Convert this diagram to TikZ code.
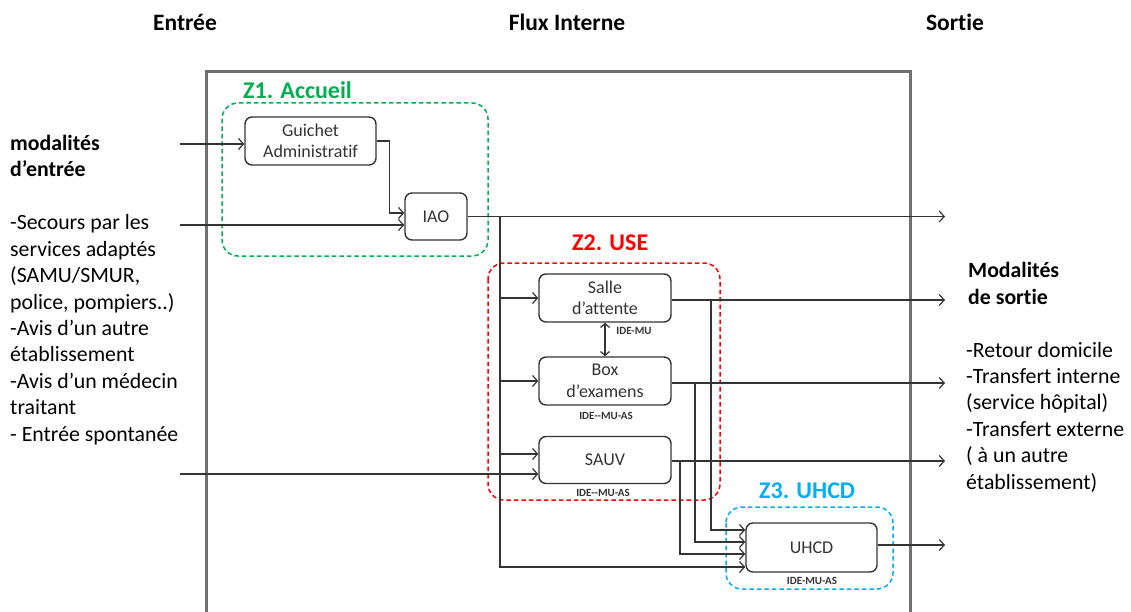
\documentclass[tikz,border=0pt]{standalone}
\usepackage{fontspec}
\setmainfont{Carlito}[Ligatures={TeX,NoCommon}]
\usetikzlibrary{arrows.meta}
\definecolor{zgreen}{HTML}{00B050}
\definecolor{zred}{HTML}{FF0000}
\definecolor{zcyan}{HTML}{00B0F0}
\definecolor{frame}{HTML}{6F6F6F}
\definecolor{ink}{HTML}{333333}
\tikzset{
  stepbox/.style={draw=ink, line width=1.4pt, rounded corners=7pt, inner sep=0pt, align=center,
    font=\fontsize{18}{21.5}\selectfont, text=ink},
  zone/.style={dashed, dash pattern=on 4.5pt off 3pt, line width=1.5pt, rounded corners=16pt},
  zlabel/.style={font=\fontsize{24}{28}\selectfont\bfseries, anchor=base west, inner sep=0pt},
  staff/.style={font=\fontsize{11}{12}\selectfont\bfseries, text=ink, inner sep=0pt},
  flow/.style={draw=ink, line width=1.3pt, -{Straight Barb[length=5pt,width=11pt,line width=1.2pt]}},
  head/.style={font=\fontsize{23.5}{28}\selectfont\bfseries, inner sep=0pt, anchor=base},
  side/.style={font=\fontsize{21.8}{26.4}\selectfont, align=left, inner sep=0pt, anchor=base west, text=black},
}
\begin{document}
\begin{tikzpicture}[x=1pt,y=-1pt]
\useasboundingbox (0,0) rectangle (1131,612);

% headers
\node[head] (hin) at (185,31) {Entrée};
\node[head] (hmid) at (567,31) {Flux Interne};
\node[head] (hout) at (955,31) {Sortie};

% main frame
\draw[frame, line width=3pt] (206,612) -- (206,72) -- (910,72) -- (910,612);

% zones
\draw[zone, zgreen] (222,103) rectangle (488,256);
\draw[zone, zred] (488,263) rectangle (720,500);
\draw[zone, zcyan] (726,507) rectangle (893,589);
\node[zlabel, zgreen] (z1) at (243,99) {Z1. Accueil};
\node[zlabel, zred] (z2) at (572,251) {Z2. USE};
\node[zlabel, zcyan] (z3) at (759,498) {Z3. UHCD};

% boxes
\node[stepbox, minimum width=131pt, minimum height=48pt] (guichet) at (310.5,141) {Guichet\\Administratif};
\node[stepbox, minimum width=62pt, minimum height=47pt] (iao) at (436,216.5) {IAO};
\node[stepbox, minimum width=132pt, minimum height=48pt] (salle) at (605,298) {Salle\\d’attente};
\node[stepbox, minimum width=132pt, minimum height=48pt] (box) at (605,381) {Box\\d’examens};
\node[stepbox, minimum width=132pt, minimum height=47pt] (sauv) at (605,460) {SAUV};
\node[stepbox, minimum width=131pt, minimum height=49pt] (uhcd) at (811.5,547.5) {UHCD};

% staff labels
\node[staff] (s1) at (634,331) {IDE-MU};
\node[staff] (s2) at (606,415.5) {IDE-{}-MU-AS};
\node[staff] (s3) at (603,492.5) {IDE-{}-MU-AS};
\node[staff] (s4) at (812,581) {IDE-MU-AS};

% side texts (base anchor = last line baseline)
\node[side, font=\fontsize{21.8}{26.4}\selectfont\bfseries] (inhead) at (10,177) {modalités\\d’entrée};
\node[side] (inlist) at (10,441) {-Secours par les\\services adaptés\\(SAMU/SMUR,\\police, pompiers..)\\-Avis d’un autre\\établissement\\-Avis d’un médecin\\traitant\\- Entrée spontanée};
\node[side, font=\fontsize{21.8}{26.4}\selectfont\bfseries] (outhead) at (968,304) {Modalités\\de sortie};
\node[side] (outlist) at (966,489) {-Retour domicile\\-Transfert interne\\(service hôpital)\\-Transfert externe\\( à un autre\\établissement)};

% free ends
\coordinate (inA) at (180,144);
\coordinate (inB) at (180,225);
\coordinate (inC) at (180,474);
\coordinate (o1) at (945,216.5);
\coordinate (o2) at (945,300);
\coordinate (o3) at (945,383);
\coordinate (o4) at (945,461);
\coordinate (o5) at (945,545);
\coordinate (t0) at (500,216.5);

% entry connectors
\draw[flow] (inA) -- (inA -| guichet.west);
\draw[flow] (guichet.east) -- ++(13,0) |- ([yshift=3.5pt]iao.west);
\draw[flow] (inB) -- (inB -| iao.west);
\draw[flow] (inC) -- (inC -| sauv.west);

% IAO out and trunk
\draw[flow] (iao.east) -- (o1);
\draw[flow] (t0) |- ([yshift=-19.5pt]uhcd.west);
\draw[flow] (t0 |- salle.west) -- (salle.west);
\draw[flow] (t0 |- box.west) -- (box.west);
\draw[flow] (t0 |- sauv.west) ++(0,-6) -- ([yshift=6pt]sauv.west);

% exits
\draw[flow] (salle.east) ++(0,2) -- (o2);
\draw[flow] (box.east) ++(0,2) -- (o3);
\draw[flow] (sauv.east) ++(0,1) -- (o4);
\draw[flow] (uhcd.east) ++(0,-2.5) -- (o5);

% drops into UHCD
\draw[flow] (711,300) |- ([yshift=17.5pt]uhcd.west);
\draw[flow] (695,383) |- ([yshift=5.5pt]uhcd.west);
\draw[flow] (680,461) |- ([yshift=-6.5pt]uhcd.west);

% salle <-> box
\draw[draw=ink, line width=1.3pt, {Straight Barb[length=4pt,width=9pt,line width=1.2pt]}-{Straight Barb[length=4pt,width=9pt,line width=1.2pt]}] (salle.south) -- (box.north);
\end{tikzpicture}
\end{document}
